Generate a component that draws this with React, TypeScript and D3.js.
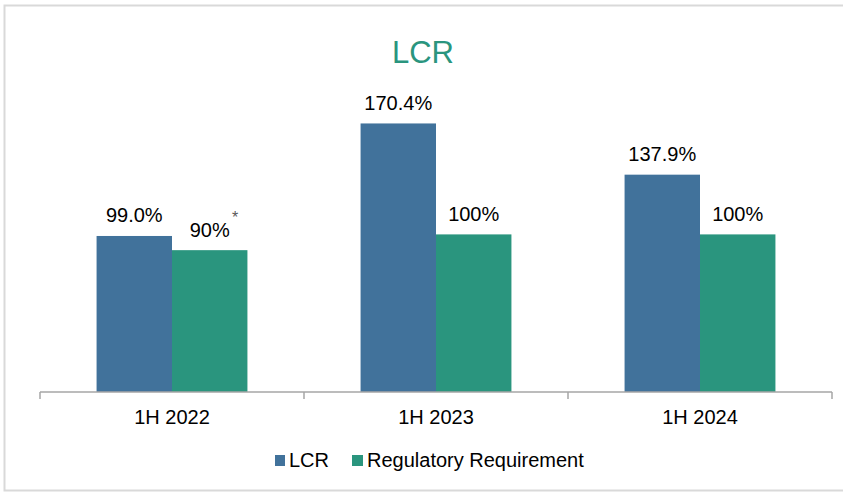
import React from 'react'
import * as d3 from 'd3'

const categories = ['1H 2022', '1H 2023', '1H 2024']
const lcrValues = [99.0, 170.4, 137.9]
const reqValues = [90, 100, 100]
const lcrLabels = ['99.0%', '170.4%', '137.9%']
const reqLabels = ['90%', '100%', '100%']
const seriesNames = ['LCR', 'Regulatory Requirement']

const WIDTH = 843
const HEIGHT = 492
const BLUE = '#41729b'
const GREEN = '#2a957e'
const FONT = 'Arial, "Liberation Sans", Helvetica, sans-serif'

const margin = { left: 40, right: 11, baseline: 392 }

const App = () => {
    // x: one band per half-year, then two bars inside it
    const xScale = d3
        .scaleBand()
        .domain(categories)
        .range([margin.left, WIDTH - margin.right])
    const inner = d3
        .scaleBand()
        .domain(seriesNames)
        .range([0, xScale.bandwidth()])
        .paddingOuter(0.75)
    const barW = inner.bandwidth()

    // y: no visible axis, only the bar heights
    const yScale = d3.scaleLinear().domain([0, 200]).range([margin.baseline, margin.baseline - 315.2])

    const series = [
        { name: seriesNames[0], values: lcrValues, labels: lcrLabels, color: BLUE },
        { name: seriesNames[1], values: reqValues, labels: reqLabels, color: GREEN },
    ]

    const ticks = [...categories.map(c => xScale(c)), WIDTH - margin.right]

    return (
        <svg width={WIDTH} height={HEIGHT} style={{ position: 'absolute', left: 0, top: 0 }} fontFamily={FONT}>
            <rect x={0} y={0} width={WIDTH} height={HEIGHT} fill="#fff" />
            {/* frame */}
            <rect x={4.5} y={5.5} width={WIDTH + 10} height={485} fill="none" stroke="#d9d9d9" strokeWidth={2} />

            <text x={423} y={62.5} fontSize={31} fill={GREEN} textAnchor="middle">LCR</text>

            {/* bars */}
            {series.map(s => (
                <g key={s.name}>
                    {s.values.map((v, i) => {
                        const x = xScale(categories[i]) + inner(s.name)
                        const y = yScale(v)
                        return (
                            <g key={i}>
                                <rect x={x} y={y} width={barW} height={margin.baseline - y} fill={s.color} />
                                <text x={x + barW / 2} y={y - 13.5} fontSize={20} fill="#000" textAnchor="middle">
                                    {s.labels[i]}
                                </text>
                            </g>
                        )
                    })}
                </g>
            ))}
            {/* footnote mark on the 2022 requirement */}
            <text x={235} y={222.5} fontSize={16} fill="#595959" textAnchor="middle">*</text>

            {/* x axis */}
            <g>
                <line x1={margin.left} x2={WIDTH - margin.right} y1={margin.baseline} y2={margin.baseline} stroke="#a6a6a6" strokeWidth={1.5} />
                {ticks.map((t, i) => (
                    <line key={i} x1={t} x2={t} y1={margin.baseline} y2={margin.baseline + 7} stroke="#a6a6a6" strokeWidth={1.5} />
                ))}
                {categories.map(c => (
                    <text key={c} x={xScale(c) + xScale.bandwidth() / 2} y={424} fontSize={20} fill="#000" textAnchor="middle">
                        {c}
                    </text>
                ))}
            </g>

            {/* legend */}
            <g>
                <rect x={275} y={455} width={10} height={11} fill={BLUE} />
                <text x={289} y={467} fontSize={20} fill="#000">{seriesNames[0]}</text>
                <rect x={352} y={455} width={11} height={11} fill={GREEN} />
                <text x={367} y={467} fontSize={20} fill="#000">{seriesNames[1]}</text>
            </g>
        </svg>
    )
}

export default App
